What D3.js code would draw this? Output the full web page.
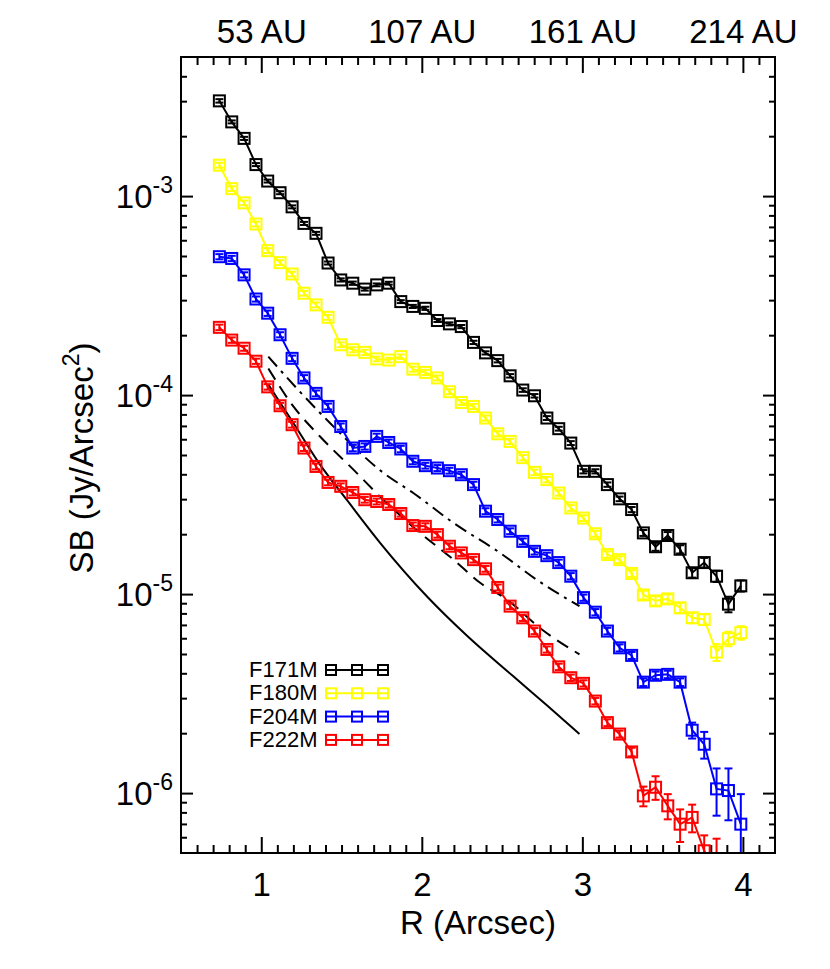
<!DOCTYPE html>
<html>
<head>
<meta charset="utf-8">
<style>
  body { margin: 0; background: #fff; }
  svg text { font-family: "Liberation Sans", Arial, Helvetica, sans-serif; fill: #000; }
  .axis path.domain { display: none; }
  .axis line { stroke: #000; stroke-width: 2px; }
  .axis text { font-size: 33px; }
</style>
<script src="https://cdn.jsdelivr.net/npm/d3@7"></script>
</head>
<body>
<script>
// radius of each annulus (arcsec), same grid for all filters
var radii = [0.739,0.816,0.893,0.967,1.040,1.117,1.192,1.266,1.341,1.416,
             1.495,1.570,1.645,1.719,1.794,1.869,1.944,2.022,2.097,2.172,
             2.246,2.322,2.397,2.473,2.550,2.629,2.702,2.779,2.853,2.928,
             3.007,3.081,3.156,3.232,3.307,3.380,3.456,3.532,3.609,3.684,
             3.759,3.836,3.910,3.987];

// surface brightness (Jy/arcsec^2) per filter
var f171m = [3.01e-3,2.36e-3,1.95e-3,1.44e-3,1.19e-3,1.04e-3,8.83e-4,7.29e-4,6.50e-4,4.61e-4,
             3.79e-4,3.65e-4,3.41e-4,3.58e-4,3.65e-4,2.95e-4,2.79e-4,2.73e-4,2.37e-4,2.28e-4,
             2.21e-4,1.84e-4,1.63e-4,1.49e-4,1.25e-4,1.06e-4,9.92e-5,7.67e-5,6.78e-5,5.74e-5,
             4.14e-5,4.14e-5,3.55e-5,3.01e-5,2.66e-5,2.03e-5,1.73e-5,1.97e-5,1.68e-5,1.28e-5,
             1.44e-5,1.23e-5,8.9e-6,1.10e-5];
var f180m = [1.43e-3,1.09e-3,9.25e-4,7.24e-4,5.32e-4,4.63e-4,4.06e-4,3.25e-4,2.84e-4,2.46e-4,
             1.79e-4,1.69e-4,1.64e-4,1.52e-4,1.50e-4,1.56e-4,1.35e-4,1.30e-4,1.22e-4,1.04e-4,
             9.18e-5,8.77e-5,7.67e-5,6.39e-5,5.85e-5,4.85e-5,4.09e-5,3.76e-5,3.22e-5,2.71e-5,
             2.41e-5,2.01e-5,1.58e-5,1.49e-5,1.27e-5,9.9e-6,9.25e-6,9.46e-6,8.53e-6,7.60e-6,
             7.46e-6,5.11e-6,5.97e-6,6.40e-6];
var f204m = [4.96e-4,4.86e-4,4.02e-4,3.04e-4,2.58e-4,2.01e-4,1.53e-4,1.22e-4,1.02e-4,8.77e-5,
             6.95e-5,5.42e-5,5.52e-5,6.20e-5,5.78e-5,5.36e-5,4.65e-5,4.42e-5,4.30e-5,4.17e-5,
             3.98e-5,3.55e-5,2.61e-5,2.37e-5,2.07e-5,1.84e-5,1.64e-5,1.56e-5,1.44e-5,1.23e-5,
             9.6e-6,8.11e-6,6.52e-6,5.37e-6,4.92e-6,3.61e-6,3.91e-6,3.95e-6,3.61e-6,2.07e-6,
             1.76e-6,1.05e-6,1.03e-6,6.98e-7];
var f222m = [2.19e-4,1.89e-4,1.72e-4,1.48e-4,1.10e-4,8.84e-5,7.10e-5,5.42e-5,4.38e-5,3.64e-5,
             3.48e-5,3.24e-5,2.98e-5,2.92e-5,2.82e-5,2.54e-5,2.21e-5,2.19e-5,1.99e-5,1.74e-5,
             1.61e-5,1.49e-5,1.34e-5,1.08e-5,8.70e-6,7.60e-6,6.52e-6,5.27e-6,4.31e-6,3.80e-6,
             3.56e-6,2.90e-6,2.26e-6,1.98e-6,1.61e-6,9.68e-7,1.07e-6,8.63e-7,6.98e-7,7.55e-7,
             5.13e-7,4.0e-7,2.5e-7,3.0e-7];

// 1-sigma errors
var e171m = [6e-5,4e-5,3.5e-5,2.5e-5,2e-5,1.8e-5,1.5e-5,1.3e-5,1.1e-5,8e-6,
             7e-6,7e-6,6e-6,6e-6,6e-6,5e-6,5e-6,5e-6,4e-6,4e-6,
             4e-6,3.5e-6,3e-6,3e-6,2.5e-6,2.2e-6,2e-6,1.7e-6,1.5e-6,1.3e-6,
             1e-6,1e-6,9e-7,8e-7,8e-7,7e-7,8e-7,8e-7,8e-7,7e-7,
             8e-7,8e-7,8e-7,7e-7];
var e180m = [4e-5,3e-5,2.5e-5,2e-5,1.5e-5,1.3e-5,1.1e-5,9e-6,8e-6,7e-6,
             5e-6,5e-6,5e-6,4e-6,4e-6,4e-6,4e-6,4e-6,3.5e-6,3e-6,
             2.7e-6,2.6e-6,2.3e-6,2e-6,1.8e-6,1.5e-6,1.3e-6,1.2e-6,1e-6,9e-7,
             8e-7,7e-7,6e-7,6e-7,5e-7,5e-7,5e-7,5e-7,5e-7,4.5e-7,
             4.5e-7,5e-7,5e-7,5e-7];
var e204m = [1.5e-5,1.5e-5,1.2e-5,9e-6,8e-6,6e-6,5e-6,4e-6,3.5e-6,3e-6,
             2.5e-6,2e-6,2e-6,2e-6,2e-6,2e-6,1.6e-6,1.5e-6,1.5e-6,1.4e-6,
             1.4e-6,1.2e-6,9e-7,8e-7,7e-7,6.5e-7,6e-7,5.5e-7,5e-7,4.5e-7,
             3.5e-7,3e-7,2.5e-7,2.2e-7,2e-7,1.6e-7,1.7e-7,1.7e-7,1.6e-7,1.9e-7,
             2.7e-7,2.8e-7,3e-7,2.9e-7];
var e222m = [7e-6,6e-6,5e-6,4.5e-6,3.5e-6,3e-6,2.4e-6,1.8e-6,1.5e-6,1.2e-6,
             1.2e-6,1.1e-6,1e-6,1e-6,1e-6,9e-7,8e-7,8e-7,7e-7,6e-7,
             5.5e-7,5e-7,4.5e-7,3.8e-7,3e-7,2.7e-7,2.3e-7,1.9e-7,1.6e-7,1.4e-7,
             1.3e-7,1.1e-7,9e-8,8e-8,8e-8,1.1e-7,1.45e-7,1.25e-7,1.3e-7,1.2e-7,
             1e-7,1.9e-7,1.4e-7,2e-7];

// model curves (black)
var solidR  = [1.044,1.200,1.366,1.532,1.740,2.031,2.280,2.570,2.779,2.982];
var solidSB = [1.13e-4,7.24e-5,4.47e-5,2.98e-5,1.81e-5,9.75e-6,6.19e-6,3.86e-6,2.76e-6,1.98e-6];
var dashR   = [1.044,1.200,1.366,1.574,1.760,1.989,2.197,2.363,2.529,2.748,2.982];
var dashSB  = [1.36e-4,8.77e-5,6.19e-5,4.22e-5,2.98e-5,2.03e-5,1.49e-5,1.14e-5,9.40e-6,6.64e-6,4.98e-6];
var dotR    = [1.044,1.231,1.428,1.760,1.947,2.197,2.488,2.716,2.982];
var dotSB   = [1.56e-4,1.06e-4,7.24e-5,4.07e-5,3.22e-5,2.28e-5,1.61e-5,1.18e-5,8.69e-6];

var filters = ["F171M", "F180M", "F204M", "F222M"];
var colors = ["#000000", "#ffff00", "#0000ff", "#ff0000"];
var xTicks = [1, 2, 3, 4];
var auLabels = ["53 AU", "107 AU", "161 AU", "214 AU"];
var yTicks = [1e-6, 1e-5, 1e-4, 1e-3];

var width = 830, height = 969;
var pLeft = 181, pRight = 775, pTop = 57, pBottom = 853;

var svg = d3.select("body").append("svg")
    .attr("width", width)
    .attr("height", height);

var x = d3.scaleLinear().domain([0.5, 4.2]).range([pLeft, pRight]);
var y = d3.scaleLog().domain([5e-7, 5e-3]).range([pBottom, pTop]);

// minor ticks
var xMinor = d3.range(6, 42).filter(function(d) { return d % 10 !== 0; }).map(function(d) { return d / 10; });
var yMinor = [];
[-7, -6, -5, -4, -3].forEach(function(p) {
  for (var m = 2; m <= 9; m++) {
    var v = m * Math.pow(10, p);
    if (v > 5.01e-7 && v < 4.99e-3) yMinor.push(v);
  }
});

// bottom axis
svg.append("g").attr("class", "axis")
    .attr("transform", "translate(0," + pBottom + ")")
    .call(d3.axisBottom(x).tickValues(xMinor).tickSize(-8).tickFormat(""));
svg.append("g").attr("class", "axis")
    .attr("transform", "translate(0," + pBottom + ")")
    .call(d3.axisBottom(x).tickValues(xTicks).tickSize(-16).tickPadding(20).tickFormat(d3.format("d")));

// top axis with AU labels
svg.append("g").attr("class", "axis")
    .attr("transform", "translate(0," + pTop + ")")
    .call(d3.axisTop(x).tickValues(xMinor).tickSize(-8).tickFormat(""));
svg.append("g").attr("class", "axis")
    .attr("transform", "translate(0," + pTop + ")")
    .call(d3.axisTop(x).tickValues(xTicks).tickSize(-16).tickPadding(14)
      .tickFormat(function(d, i) { return auLabels[i]; }));

// left and right axes
[[d3.axisLeft, pLeft], [d3.axisRight, pRight]].forEach(function(a) {
  svg.append("g").attr("class", "axis")
      .attr("transform", "translate(" + a[1] + ",0)")
      .call(a[0](y).tickValues(yMinor).tickSize(-6).tickFormat(""));
  svg.append("g").attr("class", "axis")
      .attr("transform", "translate(" + a[1] + ",0)")
      .call(a[0](y).tickValues(yTicks).tickSize(-12).tickFormat(""));
});

// y tick labels with superscript exponent
var ylab = svg.append("g").selectAll("text")
    .data(yTicks)
  .enter().append("text")
    .attr("x", pLeft - 8)
    .attr("y", function(d) { return y(d) + 12; })
    .attr("text-anchor", "end")
    .style("font-size", "33px");
ylab.append("tspan").text("10");
ylab.append("tspan")
    .attr("dy", -15)
    .style("font-size", "23px")
    .text(function(d) { return "-" + Math.round(-Math.log10(d)); });

// axis titles
svg.append("text")
    .attr("x", (pLeft + pRight) / 2)
    .attr("y", 934)
    .attr("text-anchor", "middle")
    .style("font-size", "33px")
    .text("R (Arcsec)");

var yt = svg.append("text")
    .attr("transform", "translate(93," + ((pTop + pBottom) / 2 + 3) + ") rotate(-90)")
    .attr("text-anchor", "middle")
    .style("font-size", "33px");
yt.append("tspan").text("SB (Jy/Arcsec");
yt.append("tspan").attr("dy", -14).style("font-size", "23px").text("2");
yt.append("tspan").attr("dy", 14).text(")");

// clip to plot area
svg.append("clipPath").attr("id", "plot")
  .append("rect")
    .attr("x", pLeft).attr("y", pTop)
    .attr("width", pRight - pLeft).attr("height", pBottom - pTop);

var plot = svg.append("g").attr("clip-path", "url(#plot)");

// model curves
var curve = d3.line()
    .x(function(d) { return x(d[0]); })
    .y(function(d) { return y(d[1]); })
    .curve(d3.curveMonotoneX);

[[solidR, solidSB, null], [dashR, dashSB, "13,8"], [dotR, dotSB, "13,6,3,6"]].forEach(function(c) {
  plot.append("path")
      .datum(d3.zip(c[0], c[1]))
      .attr("fill", "none")
      .attr("stroke", "#000")
      .attr("stroke-width", 2)
      .attr("stroke-dasharray", c[2])
      .attr("d", curve);
});

// measured profiles
var series = [
  { values: f171m, errors: e171m },
  { values: f180m, errors: e180m },
  { values: f204m, errors: e204m },
  { values: f222m, errors: e222m }
];

var line = d3.line()
    .x(function(d) { return x(d.r); })
    .y(function(d) { return y(d.v); });

var sq = 11;

series.forEach(function(s, k) {
  var pts = radii.map(function(r, i) { return { r: r, v: s.values[i], e: s.errors[i] }; });
  var g = plot.append("g")
      .attr("stroke", colors[k])
      .attr("stroke-width", 2)
      .attr("fill", "none");

  g.append("path").datum(pts).attr("d", line);

  // error bars
  var lo = function(d) { return y(Math.max(d.v - d.e, 1e-9)); };
  var hi = function(d) { return y(d.v + d.e); };
  var eb = g.selectAll(".err").data(pts).enter().append("g");
  eb.append("line")
      .attr("x1", function(d) { return x(d.r); })
      .attr("x2", function(d) { return x(d.r); })
      .attr("y1", lo).attr("y2", hi);
  eb.append("line")
      .attr("x1", function(d) { return x(d.r) - 4; })
      .attr("x2", function(d) { return x(d.r) + 4; })
      .attr("y1", hi).attr("y2", hi);
  eb.append("line")
      .attr("x1", function(d) { return x(d.r) - 4; })
      .attr("x2", function(d) { return x(d.r) + 4; })
      .attr("y1", lo).attr("y2", lo);

  // square markers
  g.selectAll("rect").data(pts).enter().append("rect")
      .attr("x", function(d) { return x(d.r) - sq / 2; })
      .attr("y", function(d) { return y(d.v) - sq / 2; })
      .attr("width", sq)
      .attr("height", sq);
});

// frame
svg.append("rect")
    .attr("x", pLeft).attr("y", pTop)
    .attr("width", pRight - pLeft).attr("height", pBottom - pTop)
    .attr("fill", "none")
    .attr("stroke", "#000")
    .attr("stroke-width", 2);

// legend
var legend = svg.append("g").selectAll("g")
    .data(filters)
  .enter().append("g")
    .attr("transform", function(d, i) { return "translate(249," + (677 + i * 23.3) + ")"; });

legend.append("text")
    .style("font-size", "22px")
    .text(function(d) { return d; });

legend.each(function(d, i) {
  var g = d3.select(this).append("g")
      .attr("stroke", colors[i])
      .attr("stroke-width", 2)
      .attr("fill", "none");
  g.append("line").attr("x1", 77).attr("x2", 138).attr("y1", -7).attr("y2", -7);
  [82, 108, 134].forEach(function(cx) {
    g.append("rect").attr("x", cx - 5).attr("y", -12).attr("width", 10).attr("height", 10);
  });
});
</script>
</body>
</html>
